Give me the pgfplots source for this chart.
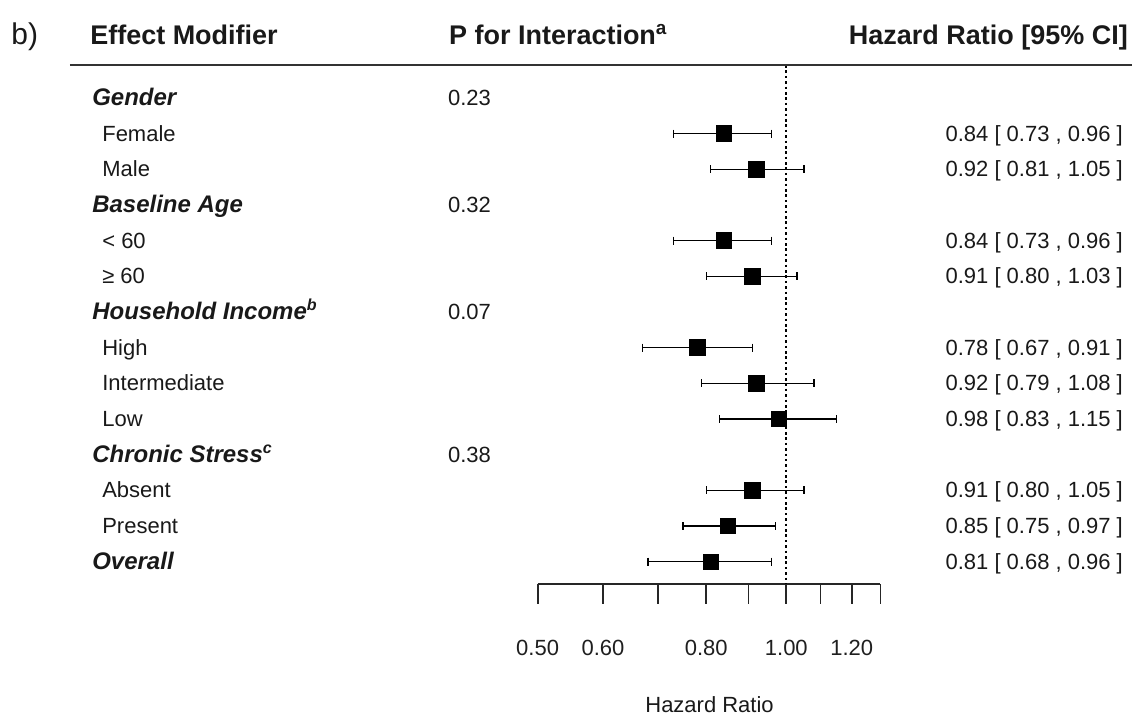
\documentclass[border=0pt]{standalone}
\usepackage{fontspec}
\setmainfont{Liberation Sans}
\usepackage{pgfplots}
\pgfplotsset{compat=1.18}
\usepackage{pgfplotstable}

\newcommand\bodyfont{\fontsize{11}{13}\selectfont}
\newcommand\headfont{\fontsize{13.5}{16}\selectfont\bfseries}
\newcommand\grp[1]{{\fontsize{12}{14}\selectfont\bfseries\itshape #1}}

\pgfplotstableread{
row hr lo hi
2 0.84 0.73 0.96
3 0.92 0.81 1.05
5 0.84 0.73 0.96
6 0.91 0.80 1.03
8 0.78 0.67 0.91
9 0.92 0.79 1.08
10 0.98 0.83 1.15
12 0.91 0.80 1.05
13 0.85 0.75 0.97
14 0.81 0.68 0.96
}\hrdata

\begin{document}
\begin{tikzpicture}
\begin{axis}[
  at={(269pt,-292pt)}, anchor=south west,
  scale only axis, width=171.5pt, height=259.5pt,
  xmode=log, xmin=0.5, xmax=1.3,
  ymin=0.0756, ymax=14.613, y dir=reverse,
  axis x line*=bottom, axis y line=none,
  x axis line style={-, line width=0.9pt, black!85},
  xtick={0.5,0.6,0.7,0.8,0.9,1.0,1.1,1.2,1.3},
  xticklabels={0.50,0.60,,0.80,,1.00,,1.20,},
  minor xtick={},
  tick align=outside, major tick length=10pt,
  tick style={line width=0.9pt, black!85},
  xticklabel style={font=\bodyfont, text=black!88},
  xticklabel shift=14.5pt,
  clip=false,
]
\addplot[black, line width=1pt, dash pattern=on 1.3pt off 1.4pt] coordinates {(1,0.0756) (1,14.613)};
\addplot[black, line width=0.75pt, mark=|, mark size=2pt] coordinates {(0.73,2) (0.96,2)};
\addplot[black, line width=0.75pt, mark=|, mark size=2pt] coordinates {(0.81,3) (1.05,3)};
\addplot[black, line width=0.75pt, mark=|, mark size=2pt] coordinates {(0.73,5) (0.96,5)};
\addplot[black, line width=0.75pt, mark=|, mark size=2pt] coordinates {(0.80,6) (1.03,6)};
\addplot[black, line width=0.75pt, mark=|, mark size=2pt] coordinates {(0.67,8) (0.91,8)};
\addplot[black, line width=0.75pt, mark=|, mark size=2pt] coordinates {(0.79,9) (1.08,9)};
\addplot[black, line width=0.75pt, mark=|, mark size=2pt] coordinates {(0.83,10) (1.15,10)};
\addplot[black, line width=0.75pt, mark=|, mark size=2pt] coordinates {(0.80,12) (1.05,12)};
\addplot[black, line width=0.75pt, mark=|, mark size=2pt] coordinates {(0.75,13) (0.97,13)};
\addplot[black, line width=0.75pt, mark=|, mark size=2pt] coordinates {(0.68,14) (0.96,14)};
\addplot[only marks, mark=square*, mark size=3.9pt, black] table[x=hr, y=row] {\hrdata};
\end{axis}

\begin{scope}[x=0.5pt, y=-0.5pt, every node/.style={inner sep=0pt, text=black!90}]
\path (0,0) rectangle (1133,715);
\node[anchor=base west, font=\fontsize{15}{18}\selectfont] at (11,45) {b)};
\node[anchor=base west, font=\headfont] at (90,45) {Effect Modifier};
\node[anchor=base west, font=\headfont] at (449,45) {P for Interaction\textsuperscript{a}};
\node[anchor=base east, font=\headfont] at (1129,45) {Hazard Ratio [95\% CI]};
\draw[line width=0.75pt, black!80] (70,65) -- (1133,65);
% labels
\begin{scope}[every node/.append style={font=\bodyfont}]
\node[anchor=base west] at (92,105.5) {\grp{Gender}};
\node[anchor=base west] at (102,141.2) {Female};
\node[anchor=base west] at (102,176.9) {Male};
\node[anchor=base west] at (92,212.6) {\grp{Baseline Age}};
\node[anchor=base west] at (102,248.3) {< 60};
\node[anchor=base west] at (102,284) {≥ 60};
\node[anchor=base west] at (92,319.7) {\grp{Household Income\textsuperscript{b}}};
\node[anchor=base west] at (102,355.4) {High};
\node[anchor=base west] at (102,391.1) {Intermediate};
\node[anchor=base west] at (102,426.8) {Low};
\node[anchor=base west] at (92,462.5) {\grp{Chronic Stress\textsuperscript{c}}};
\node[anchor=base west] at (102,498.2) {Absent};
\node[anchor=base west] at (102,533.9) {Present};
\node[anchor=base west] at (92,569.6) {\grp{Overall}};
% p values
\node[anchor=base west] at (448,105.5) {0.23};
\node[anchor=base west] at (448,212.6) {0.32};
\node[anchor=base west] at (448,319.7) {0.07};
\node[anchor=base west] at (448,462.5) {0.38};
% CI text
\node[anchor=base east] at (1124,141.2) {0.84 [ 0.73 , 0.96 ]};
\node[anchor=base east] at (1124,176.9) {0.92 [ 0.81 , 1.05 ]};
\node[anchor=base east] at (1124,248.3) {0.84 [ 0.73 , 0.96 ]};
\node[anchor=base east] at (1124,284) {0.91 [ 0.80 , 1.03 ]};
\node[anchor=base east] at (1124,355.4) {0.78 [ 0.67 , 0.91 ]};
\node[anchor=base east] at (1124,391.1) {0.92 [ 0.79 , 1.08 ]};
\node[anchor=base east] at (1124,426.8) {0.98 [ 0.83 , 1.15 ]};
\node[anchor=base east] at (1124,498.2) {0.91 [ 0.80 , 1.05 ]};
\node[anchor=base east] at (1124,533.9) {0.85 [ 0.75 , 0.97 ]};
\node[anchor=base east] at (1124,569.6) {0.81 [ 0.68 , 0.96 ]};
\node[anchor=center] at (710,705) {Hazard Ratio};
\end{scope}
\end{scope}
\end{tikzpicture}
\end{document}
